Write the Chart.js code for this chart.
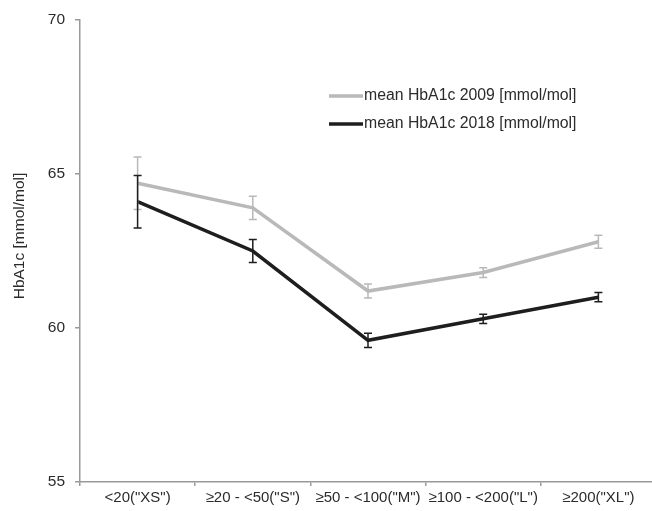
<!DOCTYPE html>
<html>
<head>
<meta charset="utf-8">
<script src="https://cdn.jsdelivr.net/npm/chart.js@4"></script>
<style>
  html, body { margin: 0; padding: 0; background: #fff; overflow: hidden; }
  #wrap { position: absolute; left: 0; top: 0; width: 660px; height: 511px; }
</style>
</head>
<body>
<div id="wrap"><canvas id="hba1cChart"></canvas></div>
<script>
// categories (practice size)
const categories = ['<20("XS")', '≥20 - <50("S")', '≥50 - <100("M")', '≥100 - <200("L")', '≥200("XL")'];

// mean HbA1c per year and error half-widths
const mean2009 = [64.7, 63.9, 61.2, 61.8, 62.8];
const err2009 = [0.85, 0.38, 0.23, 0.16, 0.21];
const mean2018 = [64.1, 62.5, 59.6, 60.3, 61.0];
const err2018 = [0.85, 0.37, 0.23, 0.15, 0.15];

const yTicks = [55, 60, 65, 70];
const yTitle = 'HbA1c [mmol/mol]';

const FONT = '"Liberation Sans", Arial, Helvetica, sans-serif';
const TEXT = '#2b2b2b';
const AXIS = '#999';

// error bars drawn through the scales
const errorBars = {
  id: 'errorBars',
  afterDatasetsDraw(chart) {
    const { ctx, scales: { x, y } } = chart;
    chart.data.datasets.forEach(ds => {
      ctx.save();
      ctx.strokeStyle = ds.borderColor;
      ctx.lineWidth = 1.5;
      ds.data.forEach((v, i) => {
        const e = ds.errors[i];
        const px = x.getPixelForValue(i);
        const top = y.getPixelForValue(v + e);
        const bot = y.getPixelForValue(v - e);
        ctx.beginPath();
        ctx.moveTo(px, top); ctx.lineTo(px, bot);
        ctx.moveTo(px - 4, top); ctx.lineTo(px + 4, top);
        ctx.moveTo(px - 4, bot); ctx.lineTo(px + 4, bot);
        ctx.stroke();
      });
      ctx.restore();
    });
  }
};

// legend inside the plot, top right + y title (sits a bit above the axis middle)
const extras = {
  id: 'extras',
  afterDraw(chart) {
    const { ctx, chartArea } = chart;
    const x0 = chartArea.left + 249;
    const y0 = chartArea.top + 76;
    ctx.save();
    ctx.font = '15.8px ' + FONT;
    ctx.textBaseline = 'middle';
    chart.data.datasets.forEach((ds, i) => {
      const yy = y0 + i * 28;
      ctx.strokeStyle = ds.borderColor;
      ctx.lineWidth = 3.5;
      ctx.beginPath();
      ctx.moveTo(x0, yy); ctx.lineTo(x0 + 34, yy);
      ctx.stroke();
      ctx.fillStyle = TEXT;
      ctx.fillText(ds.label, x0 + 35, yy);
    });
    ctx.restore();

    ctx.save();
    ctx.font = '15.5px ' + FONT;
    ctx.fillStyle = TEXT;
    ctx.textAlign = 'center';
    ctx.textBaseline = 'middle';
    ctx.translate(20, 236);
    ctx.rotate(-Math.PI / 2);
    ctx.fillText(yTitle, 0, 0);
    ctx.restore();
  }
};

const ctx = document.getElementById('hba1cChart').getContext('2d');
const chart = new Chart(ctx, {
  type: 'line',
  data: {
    labels: categories,
    datasets: [
      {
        label: 'mean HbA1c 2009 [mmol/mol]',
        data: mean2009,
        errors: err2009,
        borderColor: '#b9b9b9',
        borderWidth: 3.5,
        pointRadius: 0,
        tension: 0
      },
      {
        label: 'mean HbA1c 2018 [mmol/mol]',
        data: mean2018,
        errors: err2018,
        borderColor: '#1e1e1e',
        borderWidth: 3.5,
        pointRadius: 0,
        tension: 0
      }
    ]
  },
  options: {
    responsive: true,
    maintainAspectRatio: false,
    animation: false,
    layout: { padding: { left: 0, right: 4, top: 20, bottom: 0 } },
    plugins: {
      legend: { display: false },
      tooltip: { enabled: false }
    },
    scales: {
      x: {
        type: 'category',
        offset: true,
        grid: { offset: true, drawOnChartArea: false, tickLength: 4, color: AXIS, lineWidth: 1.5 },
        border: { color: AXIS, width: 1.5 },
        ticks: { color: TEXT, font: { family: FONT, size: 15 }, padding: 3, maxRotation: 0, autoSkip: false },
        afterFit(scale) { scale.height = 29; }
      },
      y: {
        min: 55,
        max: 70,
        afterBuildTicks(scale) { scale.ticks = yTicks.map(v => ({ value: v })); },
        grid: { drawOnChartArea: false, tickLength: 5, color: AXIS, lineWidth: 1.5 },
        border: { color: AXIS, width: 1.5 },
        ticks: { color: TEXT, font: { family: FONT, size: 15.5 }, padding: 10 },
        afterFit(scale) { scale.width = 80; }
      }
    }
  },
  plugins: [errorBars, extras]
});
</script>
</body>
</html>
